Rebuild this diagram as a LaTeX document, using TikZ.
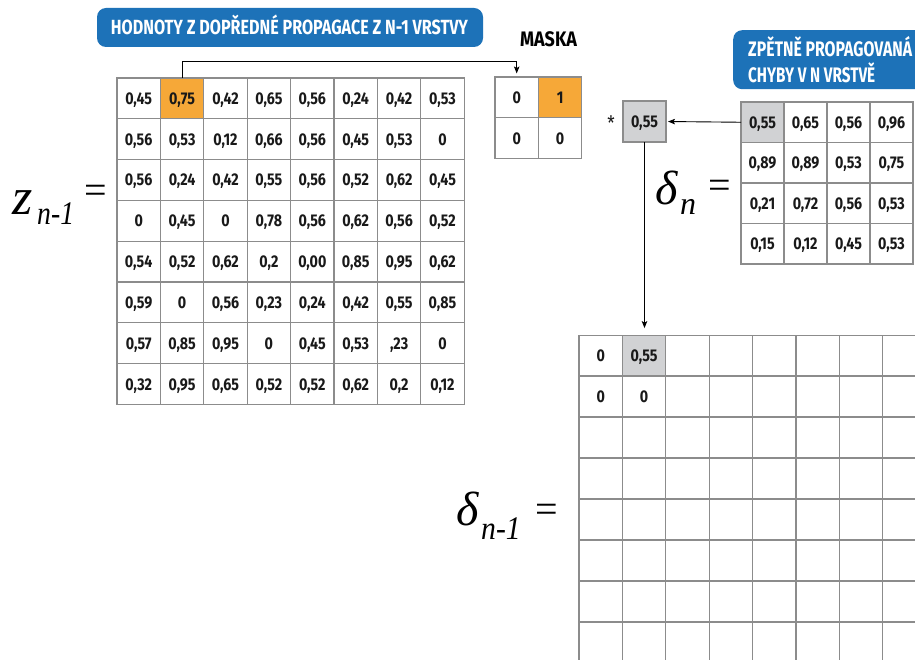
\documentclass[tikz,border=0pt]{standalone}
\usepackage{fontspec}
\usepackage{graphicx}
\usetikzlibrary{arrows.meta}
\newfontfamily\cellfont[FakeStretch=0.84]{Fira Sans}
\newfontfamily\lblfont{Liberation Serif}
\definecolor{bannerblue}{RGB}{29,114,184}
\definecolor{hlorange}{RGB}{246,168,56}
\definecolor{selgray}{RGB}{209,210,212}
\definecolor{gridgray}{RGB}{140,140,140}
\definecolor{inkblack}{RGB}{25,25,25}
\tikzset{
  cell/.style={draw=gridgray, line width=1.2pt, minimum width=43.4pt, minimum height=40.8pt,
    inner sep=0pt, outer sep=0pt, anchor=center, text=inkblack,
    font=\cellfont\bfseries\fontsize{17}{17}\selectfont, text height=12pt, text depth=0pt},
  conn/.style={draw=black, line width=0.9pt, -{Stealth[length=7pt,width=5.5pt,inset=1.5pt]}},
  banner/.style={fill=bannerblue, draw=none, rounded corners=9pt},
  bantext/.style={text=white, inner sep=0pt, font=\cellfont\bfseries},
  mathlbl/.style={inner sep=0pt, text=black},
  z 1-2/.style={fill=hlorange},
  m 1-2/.style={fill=hlorange},
  d 1-1/.style={fill=selgray},
  e 1-2/.style={fill=selgray},
}
\begin{document}
\begin{tikzpicture}[x=1pt,y=-1pt]
\useasboundingbox (0,0) rectangle (915,660);
\fill[white] (0,0) rectangle (915,660);
\begin{scope}
\clip (0,0) rectangle (915,660);

% banner 1
\node[banner, minimum width=386pt, minimum height=39pt, inner sep=0pt] (ban1) at (290,27.5) {};
\node[bantext, anchor=base] (ban1t) at (289.5,34.5)
  {\resizebox{357pt}{\height}{\fontsize{20.5}{20.5}\selectfont HODNOTY Z DOPŘEDNÉ PROPAGACE Z N-1 VRSTVY}};

% banner 2
\node[banner, minimum width=210pt, minimum height=59pt, inner sep=0pt, anchor=north west] (ban2) at (733,30) {};
\node[bantext, anchor=base west] (ban2a) at (748,57)
  {\resizebox{164pt}{\height}{\fontsize{21}{21}\selectfont ZPĚTNĚ PROPAGOVANÁ}};
\node[bantext, anchor=base west] (ban2b) at (748,83)
  {\resizebox{127pt}{\height}{\fontsize{21}{21}\selectfont CHYBY V N VRSTVĚ}};

% MASKA label
\node[inner sep=0pt, anchor=base, text=black, font=\cellfont\bfseries] (maskalbl) at (548.5,46.7)
  {\resizebox{57pt}{\height}{\fontsize{21}{21}\selectfont MASKA}};

% z_{n-1} matrix
\foreach \row [count=\r] in {
  {{0,45},{0,75},{0,42},{0,65},{0,56},{0,24},{0,42},{0,53}},
  {{0,56},{0,53},{0,12},{0,66},{0,56},{0,45},{0,53},{0}},
  {{0,56},{0,24},{0,42},{0,55},{0,56},{0,52},{0,62},{0,45}},
  {{0},{0,45},{0},{0,78},{0,56},{0,62},{0,56},{0,52}},
  {{0,54},{0,52},{0,62},{0,2},{0,00},{0,85},{0,95},{0,62}},
  {{0,59},{0},{0,56},{0,23},{0,24},{0,42},{0,55},{0,85}},
  {{0,57},{0,85},{0,95},{0},{0,45},{0,53},{,23},{0}},
  {{0,32},{0,95},{0,65},{0,52},{0,52},{0,62},{0,2},{0,12}}}{
  \foreach \v [count=\c] in \row {
    \node[cell, z \r-\c/.try] (z-\r-\c) at ({117+43.4*(\c-0.5)},{78+40.8*(\r-0.5)}) {\v};
  }
}

% mask
\foreach \row [count=\r] in {{{0},{1}},{{0},{0}}}{
  \foreach \v [count=\c] in \row {
    \node[cell, m \r-\c/.try] (m-\r-\c) at ({495+43.4*(\c-0.5)},{77+40.8*(\r-0.5)}) {\v};
  }
}

% delta_n matrix
\foreach \row [count=\r] in {
  {{0,55},{0,65},{0,56},{0,96}},
  {{0,89},{0,89},{0,53},{0,75}},
  {{0,21},{0,72},{0,56},{0,53}},
  {{0,15},{0,12},{0,45},{0,53}}}{
  \foreach \v [count=\c] in \row {
    \node[cell, minimum width=43pt, minimum height=40.5pt, d \r-\c/.try] (d-\r-\c) at ({741+43*(\c-0.5)},{102+40.5*(\r-0.5)}) {\v};
  }
}

% selected value
\node[cell, minimum width=43pt, minimum height=41pt, fill=selgray] (sel) at (644.5,121.5) {0,55};
\node[inner sep=0pt, anchor=base, text=inkblack, font=\cellfont\fontsize{20}{20}\selectfont] (star) at (611,131) {*};

% delta_{n-1} matrix
\foreach \r in {1,...,8}{
  \foreach \c in {1,...,8}{
    \node[cell, e \r-\c/.try] (e-\r-\c) at ({579+43.4*(\c-0.5)},{335+41*(\r-0.5)}) {};
  }
}
\node[cell, draw=none, fill=none] (e-1-1t) at (e-1-1) {0};
\node[cell, draw=none, fill=none] (e-1-2t) at (e-1-2) {0,55};
\node[cell, draw=none, fill=none] (e-2-1t) at (e-2-1) {0};
\node[cell, draw=none, fill=none] (e-2-2t) at (e-2-2) {0};

% connectors
\draw[conn, shorten >=3.5pt] (z-1-2.north) -- ++(0,-17) -| (m-1-1.north);
\draw[conn, shorten >=2pt] (d-1-1.west) -- (sel.east);
\draw[conn, shorten >=7pt] (sel.south) -- (sel.south |- e-1-2.north);

% labels
\node[mathlbl, anchor=base west] (zl) at (12,215) {\lblfont\itshape\fontsize{52}{52}\selectfont z};
\node[mathlbl, anchor=base west] (zs) at (37,225) {\scalebox{0.84}[1]{\lblfont\itshape\fontsize{33}{33}\selectfont n-1}};
\node[mathlbl] (zeq) at (96,194) {\lblfont\fontsize{40}{40}\selectfont =};

\node[mathlbl, anchor=base west] (dl) at (655,205) {\lblfont\itshape\fontsize{48}{48}\selectfont δ};
\node[mathlbl, anchor=base west] (ds) at (680,215) {\lblfont\itshape\fontsize{32}{32}\selectfont n};
\node[mathlbl] (deq) at (720,189) {\lblfont\fontsize{40}{40}\selectfont =};

\node[mathlbl, anchor=base west] (el) at (456,525) {\lblfont\itshape\fontsize{48}{48}\selectfont δ};
\node[mathlbl, anchor=base west] (es) at (481,539) {\scalebox{0.9}[1]{\lblfont\itshape\fontsize{33}{33}\selectfont n-1}};
\node[mathlbl] (eeq) at (547,513) {\lblfont\fontsize{40}{40}\selectfont =};
\end{scope}
\end{tikzpicture}
\end{document}
